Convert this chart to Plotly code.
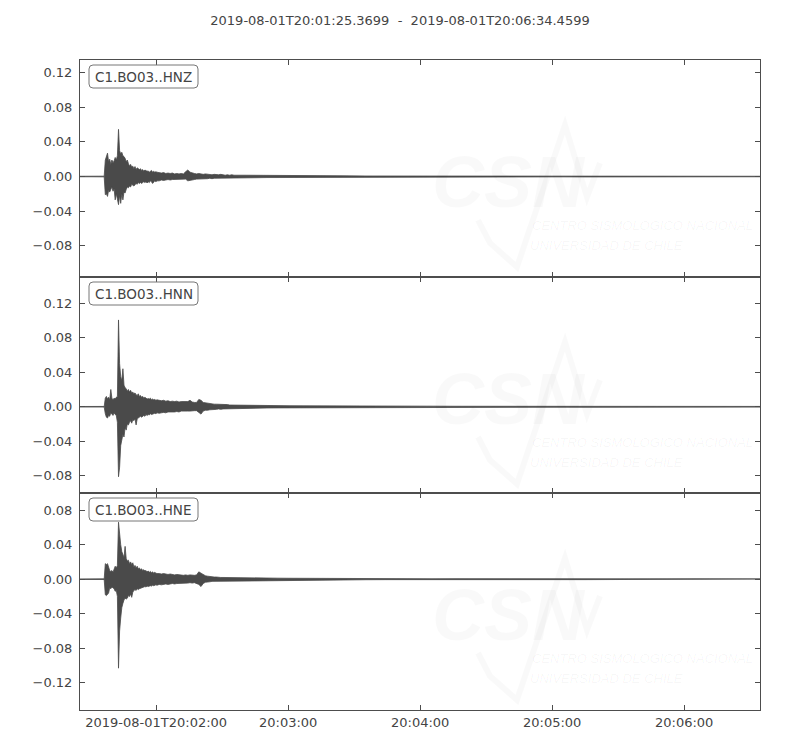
import pandas as pd
import plotly.graph_objects as go
from plotly.subplots import make_subplots

# ---------------- data ----------------
title_text = "2019-08-01T20:01:25.3699  -  2019-08-01T20:06:34.4599"
start_time = "2019-08-01 20:01:25.3699"
end_time = "2019-08-01 20:06:34.4599"
channels = ["C1.BO03..HNZ", "C1.BO03..HNN", "C1.BO03..HNE"]

# envelope sample times, seconds after start
t_sec = [0, 5, 10, 11,
         11.5, 12.0, 12.5, 13.0, 13.5, 14.0, 14.5, 15.0, 15.5, 16.0,
         16.5, 17.0, 17.5, 18.0, 18.5, 19.0, 19.5, 20.0, 20.5, 21.0,
         21.5, 22.0, 22.5, 23.0, 23.5, 24.0, 24.5, 25.0, 25.5, 26.0,
         26.5, 27.0, 27.5, 28.0, 28.5, 29.0, 29.5, 30.0, 30.5, 31.0,
         31.5, 32.0, 32.5, 33.0, 33.5, 34.0, 34.5, 35.0,
         36, 37, 38, 39, 40, 41, 42, 43, 44, 45,
         46, 47, 48, 49, 50, 51, 52, 53, 54, 55,
         56, 57, 58, 59, 60, 61, 62, 63, 64, 65,
         66, 67, 68, 69, 70,
         75, 80, 85, 90, 95, 100, 105, 110, 115, 120,
         130, 140, 150, 160, 170, 180, 190, 200, 210, 220,
         230, 240, 250, 260, 270, 280, 290, 300,
         309.09]

hnz_max = [0.0003, 0.0003, 0.0003, 0.0004,
           0.019, 0.022, 0.027, 0.017, 0.020, 0.014, 0.019, 0.016, 0.018, 0.022,
           0.019, 0.024, 0.0545, 0.030, 0.026, 0.028, 0.024, 0.023, 0.021, 0.017,
           0.019, 0.015, 0.012, 0.014, 0.011, 0.012, 0.009, 0.0115, 0.008, 0.010,
           0.009, 0.008, 0.009, 0.007, 0.008, 0.006, 0.0075, 0.007, 0.006, 0.0065,
           0.005, 0.006, 0.007, 0.005, 0.006, 0.005, 0.0055, 0.005,
           0.0045, 0.004, 0.0045, 0.0035, 0.004, 0.0035, 0.004, 0.003, 0.0035, 0.003,
           0.0035, 0.003, 0.0055, 0.0075, 0.005, 0.004, 0.0035, 0.003, 0.0035, 0.003,
           0.0025, 0.003, 0.0025, 0.0025, 0.002, 0.0025, 0.002, 0.002, 0.0025, 0.002,
           0.0015, 0.002, 0.0015, 0.002, 0.0015,
           0.0015, 0.0015, 0.0012, 0.0012, 0.001, 0.001, 0.001, 0.0009, 0.0008, 0.0008,
           0.0006, 0.0006, 0.0005, 0.0006, 0.0005, 0.0005, 0.0005, 0.0004, 0.0005, 0.0004,
           0.0004, 0.0005, 0.0004, 0.0004, 0.0004, 0.0004, 0.0004, 0.0004,
           0.0003]
hnz_min = [-0.0003, -0.0003, -0.0003, -0.0004,
           -0.021, -0.020, -0.023, -0.016, -0.018, -0.015, -0.012, -0.017, -0.014, -0.027,
           -0.020, -0.026, -0.0325, -0.022, -0.031, -0.020, -0.027, -0.018, -0.019, -0.015,
           -0.012, -0.013, -0.011, -0.012, -0.009, -0.010, -0.011, -0.009, -0.008, -0.009,
           -0.007, -0.008, -0.007, -0.008, -0.007, -0.006, -0.007, -0.006, -0.0075, -0.006,
           -0.007, -0.005, -0.006, -0.008, -0.006, -0.005, -0.006, -0.005,
           -0.005, -0.004, -0.0045, -0.004, -0.0035, -0.004, -0.0035, -0.0035, -0.003, -0.0035,
           -0.003, -0.003, -0.003, -0.005, -0.004, -0.004, -0.0035, -0.003, -0.003, -0.0025,
           -0.003, -0.0025, -0.0025, -0.002, -0.0025, -0.002, -0.002, -0.002, -0.002, -0.0015,
           -0.002, -0.0015, -0.0015, -0.0015, -0.0015,
           -0.0015, -0.0014, -0.0012, -0.0011, -0.001, -0.001, -0.0009, -0.0009, -0.0008, -0.0008,
           -0.0006, -0.0005, -0.0006, -0.0005, -0.0005, -0.0005, -0.0004, -0.0005, -0.0004, -0.0004,
           -0.0005, -0.0004, -0.0004, -0.0004, -0.0004, -0.0004, -0.0004, -0.0004,
           -0.0003]

hnn_max = [0.0003, 0.0003, 0.0003, 0.0004,
           0.010, 0.012, 0.009, 0.011, 0.008, 0.020, 0.010, 0.008, 0.010, 0.009,
           0.011, 0.012, 0.1005, 0.050, 0.035, 0.030, 0.044, 0.025, 0.022, 0.021,
           0.018, 0.020, 0.017, 0.019, 0.016, 0.017, 0.015, 0.016, 0.014, 0.013,
           0.015, 0.012, 0.013, 0.011, 0.012, 0.010, 0.011, 0.010, 0.009, 0.0095,
           0.009, 0.010, 0.008, 0.009, 0.008, 0.0085, 0.0075, 0.008,
           0.0075, 0.007, 0.0075, 0.0065, 0.007, 0.006, 0.0065, 0.006, 0.0065, 0.0055,
           0.006, 0.006, 0.0055, 0.006, 0.0075, 0.0055, 0.005, 0.005, 0.0085, 0.0075,
           0.005, 0.0045, 0.004, 0.0035, 0.0035, 0.003, 0.003, 0.003, 0.0025, 0.0025,
           0.0025, 0.0025, 0.002, 0.002, 0.002,
           0.0018, 0.0016, 0.0015, 0.0013, 0.0012, 0.0011, 0.001, 0.001, 0.0009, 0.0009,
           0.0007, 0.0007, 0.0006, 0.0007, 0.0006, 0.0006, 0.0006, 0.0005, 0.0006, 0.0005,
           0.0005, 0.0006, 0.0005, 0.0005, 0.0005, 0.0005, 0.0005, 0.0005,
           0.0004]
hnn_min = [-0.0003, -0.0003, -0.0003, -0.0004,
           -0.008, -0.012, -0.013, -0.010, -0.011, -0.007, -0.009, -0.010, -0.007, -0.009,
           -0.010, -0.018, -0.081, -0.070, -0.045, -0.038, -0.032, -0.035, -0.024, -0.027,
           -0.020, -0.021, -0.018, -0.016, -0.019, -0.015, -0.016, -0.014, -0.021, -0.014,
           -0.013, -0.012, -0.011, -0.012, -0.011, -0.010, -0.011, -0.009, -0.010, -0.009,
           -0.0095, -0.008, -0.009, -0.0085, -0.008, -0.0075, -0.008, -0.007,
           -0.0075, -0.007, -0.0065, -0.007, -0.006, -0.0065, -0.006, -0.006, -0.0055, -0.006,
           -0.005, -0.0055, -0.005, -0.005, -0.005, -0.005, -0.0045, -0.0045, -0.0065, -0.0085,
           -0.005, -0.004, -0.004, -0.0035, -0.003, -0.003, -0.003, -0.0025, -0.003, -0.0025,
           -0.0025, -0.002, -0.0025, -0.002, -0.002,
           -0.0018, -0.0016, -0.0014, -0.0013, -0.0012, -0.0011, -0.001, -0.001, -0.0009, -0.0009,
           -0.0007, -0.0006, -0.0007, -0.0006, -0.0006, -0.0006, -0.0005, -0.0006, -0.0005, -0.0005,
           -0.0006, -0.0005, -0.0005, -0.0005, -0.0005, -0.0005, -0.0005, -0.0005,
           -0.0004]

hne_max = [0.0003, 0.0003, 0.0003, 0.0004,
           0.018, 0.017, 0.018, 0.014, 0.010, 0.009, 0.010, 0.008, 0.012, 0.015,
           0.013, 0.016, 0.066, 0.051, 0.040, 0.032, 0.027, 0.025, 0.038, 0.024,
           0.021, 0.022, 0.018, 0.020, 0.017, 0.019, 0.014, 0.016, 0.013, 0.015,
           0.012, 0.013, 0.011, 0.012, 0.010, 0.011, 0.0095, 0.010, 0.0085, 0.0095,
           0.008, 0.009, 0.0075, 0.0085, 0.007, 0.008, 0.007, 0.0065,
           0.0065, 0.006, 0.0065, 0.006, 0.0055, 0.006, 0.0055, 0.005, 0.0055, 0.005,
           0.005, 0.0045, 0.005, 0.0045, 0.005, 0.0045, 0.0045, 0.005, 0.0085, 0.007,
           0.005, 0.004, 0.0035, 0.003, 0.003, 0.0025, 0.0025, 0.002, 0.002, 0.002,
           0.002, 0.0018, 0.0018, 0.0018, 0.0015,
           0.0015, 0.0014, 0.0013, 0.0012, 0.0011, 0.001, 0.001, 0.0009, 0.0009, 0.0008,
           0.0006, 0.0006, 0.0006, 0.0005, 0.0006, 0.0005, 0.0005, 0.0005, 0.0004, 0.0005,
           0.0004, 0.0004, 0.0005, 0.0004, 0.0004, 0.0004, 0.0004, 0.0004,
           0.0003]
hne_min = [-0.0003, -0.0003, -0.0003, -0.0004,
           -0.018, -0.019, -0.017, -0.016, -0.010, -0.011, -0.009, -0.010, -0.011, -0.014,
           -0.013, -0.020, -0.103, -0.060, -0.045, -0.033, -0.028, -0.024, -0.022, -0.023,
           -0.022, -0.019, -0.020, -0.017, -0.021, -0.015, -0.013, -0.012, -0.013, -0.011,
           -0.012, -0.011, -0.010, -0.0095, -0.0095, -0.009, -0.0085, -0.009, -0.008, -0.0085,
           -0.008, -0.0075, -0.008, -0.007, -0.0075, -0.007, -0.0065, -0.007,
           -0.006, -0.0065, -0.006, -0.0055, -0.006, -0.0055, -0.005, -0.0055, -0.005, -0.005,
           -0.0045, -0.005, -0.0045, -0.0045, -0.004, -0.0045, -0.004, -0.0045, -0.006, -0.0085,
           -0.005, -0.0035, -0.0035, -0.003, -0.0025, -0.0025, -0.0025, -0.002, -0.002, -0.002,
           -0.0018, -0.0018, -0.0018, -0.0015, -0.0015,
           -0.0015, -0.0014, -0.0013, -0.0012, -0.0011, -0.001, -0.001, -0.0009, -0.0009, -0.0008,
           -0.0006, -0.0005, -0.0006, -0.0006, -0.0005, -0.0005, -0.0005, -0.0004, -0.0005, -0.0004,
           -0.0005, -0.0004, -0.0004, -0.0004, -0.0004, -0.0004, -0.0004, -0.0004,
           -0.0003]

y_ranges = [[-0.1157, 0.1346], [-0.1002, 0.1506], [-0.1514, 0.0994]]
y_tickvals = [[-0.08, -0.04, 0.0, 0.04, 0.08, 0.12],
              [-0.08, -0.04, 0.0, 0.04, 0.08, 0.12],
              [-0.12, -0.08, -0.04, 0.0, 0.04, 0.08]]
x_tickvals = ["2019-08-01 20:02:00", "2019-08-01 20:03:00", "2019-08-01 20:04:00",
              "2019-08-01 20:05:00", "2019-08-01 20:06:00"]
x_ticktext = ["2019-08-01T20:02:00", "20:03:00", "20:04:00", "20:05:00", "20:06:00"]

# ---------------- figure ----------------
LINE = "#4a4a4a"
FRAME = "#4d4d4d"
TXT = "#444444"
FONT = "DejaVu Sans"

t0 = pd.Timestamp(start_time)
fig = make_subplots(rows=3, cols=1, shared_xaxes=True, vertical_spacing=0)

series = [(hnz_max, hnz_min), (hnn_max, hnn_min), (hne_max, hne_min)]
for i, (hi, lo) in enumerate(series):
    times = [t0 + pd.to_timedelta(t, unit="s") for t in t_sec]
    xs = times + times[::-1]
    ys = list(hi) + list(lo)[::-1]
    fig.add_trace(go.Scatter(x=xs, y=ys, mode="lines", fill="toself",
                             fillcolor=LINE,
                             line=dict(color=LINE, width=0.8),
                             showlegend=False, hoverinfo="skip"),
                  row=i + 1, col=1)

for i in range(3):
    fig.update_yaxes(range=y_ranges[i], tickvals=y_tickvals[i], tickformat=".2f",
                     ticks="inside", ticklen=5, tickcolor=FRAME, mirror="ticks",
                     showline=True, linecolor=FRAME, linewidth=1, showgrid=False,
                     zeroline=False, tickfont=dict(family=FONT, size=13, color=TXT),
                     ticklabelstandoff=4, row=i + 1, col=1)
    fig.update_xaxes(range=[start_time, end_time], tickvals=x_tickvals,
                     ticktext=x_ticktext, ticks="inside", ticklen=5, tickcolor=FRAME,
                     mirror="ticks", showline=True, linecolor=FRAME, linewidth=1,
                     showgrid=False, zeroline=False, showticklabels=(i == 2),
                     tickfont=dict(family=FONT, size=13, color=TXT),
                     row=i + 1, col=1)

# page has an 8px body margin; figure is sized so that the plot frame lands
# at page pixels x 80..760, y 60..710
OFF = 8
W, H = 800 - OFF, 750 - OFF
L, R, T, B = 80 - OFF, 40, 60 - OFF, 40


def px_x(px):
    return (px - 80) / 680


def px_y(py):
    return 1 - (py - 60) / 650


panel_tops_px = [60, 277, 493]
shapes = []
annotations = []
wm = "rgba(0,0,0,0.025)"
wm_txt = "rgba(0,0,0,0.04)"
for i, name in enumerate(channels):
    top = panel_tops_px[i]
    ytop = px_y(top)
    path = ("M 13,-5 L 114,-5 Q 118,-5 118,-9 L 118,-24 Q 118,-28 114,-28 "
            "L 13,-28 Q 9,-28 9,-24 L 9,-9 Q 9,-5 13,-5 Z")
    shapes.append(dict(type="path", xref="paper", yref="paper", xsizemode="pixel",
                       ysizemode="pixel", xanchor=0, yanchor=ytop, path=path,
                       fillcolor="rgba(255,255,255,0.85)",
                       line=dict(color="#777777", width=1), layer="above"))
    annotations.append(dict(text=name, xref="paper", yref="paper", x=px_x(143.5),
                            y=px_y(top + 17), xanchor="center", yanchor="middle",
                            showarrow=False,
                            font=dict(family=FONT, size=13.5, color=TXT)))
    # faint CSN watermark
    annotations.append(dict(text="<b><i>CSN</i></b>", xref="paper", yref="paper",
                            x=px_x(509), y=px_y(top + 122), xanchor="center",
                            yanchor="middle", showarrow=False,
                            font=dict(family="Liberation Sans", size=72, color=wm)))
    annotations.append(dict(text="<i>CENTRO SISMOLÓGICO NACIONAL</i>", xref="paper",
                            yref="paper", x=px_x(530), y=px_y(top + 165),
                            xanchor="left", yanchor="middle", showarrow=False,
                            font=dict(family="Liberation Sans", size=13,
                                      color=wm_txt)))
    annotations.append(dict(text="<i>UNIVERSIDAD DE CHILE</i>", xref="paper",
                            yref="paper", x=px_x(528), y=px_y(top + 185),
                            xanchor="left", yanchor="middle", showarrow=False,
                            font=dict(family="Liberation Sans", size=13,
                                      color=wm_txt)))
    wpts = [(478, top + 160), (490, top + 183), (517, top + 207), (565, top + 65),
            (587, top + 137), (600, top + 103)]
    wpath = "M " + " L ".join(f"{px_x(a):.4f},{px_y(b):.4f}" for a, b in wpts)
    shapes.append(dict(type="path", xref="paper", yref="paper", path=wpath,
                       line=dict(color=wm, width=6), layer="below"))

fig.update_layout(
    width=W, height=H,
    margin=dict(l=L, r=R, t=T, b=B),
    paper_bgcolor="white", plot_bgcolor="white",
    title=dict(text=title_text.replace(" ", "\u00a0"), x=(400 - OFF) / W,
               xref="container", xanchor="center", y=1 - (20 - OFF) / H,
               yref="container", yanchor="middle",
               font=dict(family=FONT, size=13, color=TXT)),
    shapes=shapes, annotations=annotations,
    showlegend=False,
)

fig.write_html("out.html")
